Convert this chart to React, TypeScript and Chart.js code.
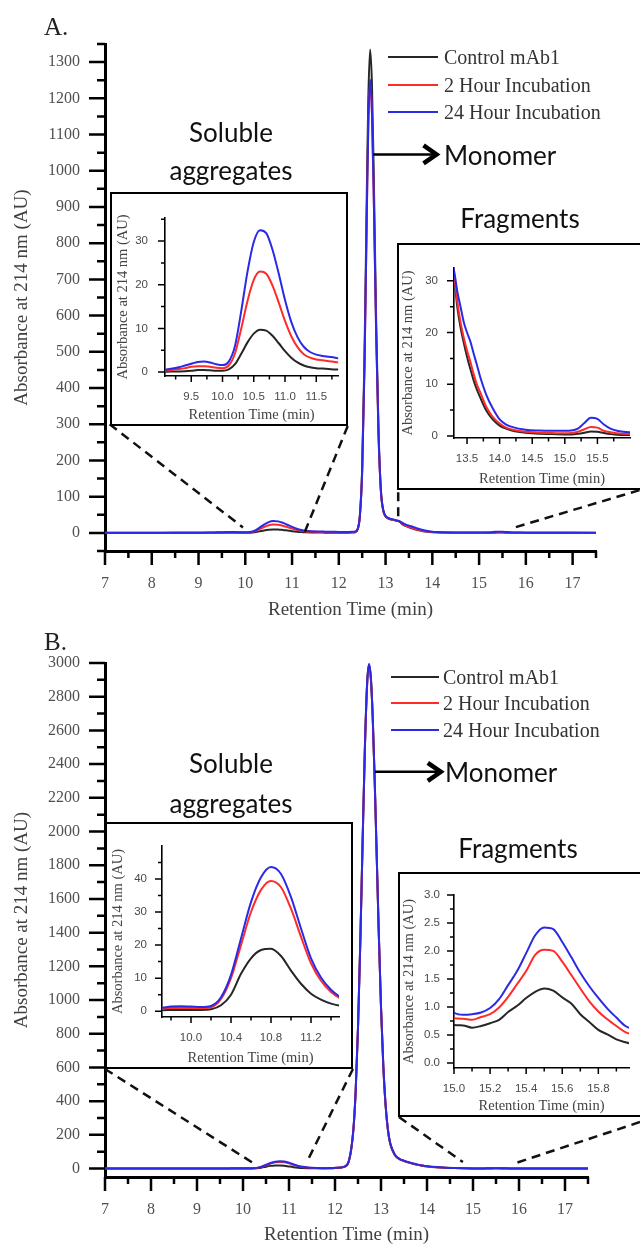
import React, { useEffect, useRef } from "react";
import { Chart, registerables } from "chart.js";

Chart.register(...registerables);

// ---------- series ----------
const SERIES_NAMES = ["Control mAb1", "2 Hour Incubation", "24 Hour Incubation"];
const SERIES_COLORS = ["#262626", "#ff2b2b", "#2a2ae6"];

// ---------- Panel A data ----------
const xA = [
  7.0, 8.0, 8.5, 9.0,
  9.1, 9.2, 9.3, 9.4, 9.5, 9.6, 9.7, 9.8, 9.9,
  10.0, 10.1, 10.2, 10.3, 10.4, 10.5, 10.6, 10.7, 10.8, 10.9,
  11.0, 11.1, 11.2, 11.3, 11.4, 11.5, 11.6, 11.7, 11.8, 11.9,
  12.0, 12.1, 12.2, 12.3,
  12.35, 12.4, 12.45, 12.5, 12.55, 12.6,
  12.63, 12.67, 12.71, 12.75,
  12.8, 12.85, 12.9, 12.95,
  13.0, 13.05, 13.1, 13.15, 13.2, 13.25,
  13.3, 13.35, 13.4, 13.45, 13.5, 13.55, 13.6, 13.65, 13.7,
  13.8, 13.9, 14.0, 14.1, 14.2,
  14.4, 14.6, 14.8,
  15.0, 15.1, 15.2, 15.3, 15.4, 15.5, 15.6, 15.7, 15.8, 15.9,
  16.0, 16.5, 17.0, 17.5,
];
const blackA = [
  0, 0, 0.05, 0.1,
  0.1, 0.12, 0.15, 0.2, 0.3, 0.45, 0.5, 0.4, 0.3,
  0.3, 0.6, 1.8, 4.2, 6.8, 8.8, 9.7, 9.5, 8.3, 6.6,
  4.8, 3.3, 2.2, 1.5, 1.1, 0.9, 0.8, 0.7, 0.6, 0.6,
  0.6, 0.6, 0.7, 0.9,
  1.8, 9, 47, 181, 493, 951,
  1195, 1335, 1232, 969,
  575, 280, 118, 62,
  45, 40, 37.5, 36, 34.5, 33,
  31, 25, 21, 18, 15.3, 13, 10.8, 9, 7.5,
  4.8, 3.1, 2.0, 1.4, 1.0,
  0.6, 0.4, 0.35,
  0.3, 0.3, 0.4, 0.6, 0.85, 0.8, 0.55, 0.35, 0.25, 0.2,
  0.2, 0.1, 0.05, 0,
];
const redA = [
  0.1, 0.1, 0.15, 0.3,
  0.35, 0.5, 0.7, 0.9, 1.2, 1.35, 1.35, 1.2, 1.0,
  0.9, 1.5, 4.3, 10.0, 16.3, 21.1, 23.0, 22.5, 19.8, 15.9,
  11.7, 8.2, 5.7, 4.1, 3.3, 2.9, 2.7, 2.5, 2.3, 2.1,
  2.0, 1.9, 2.0, 2.3,
  3, 9, 45, 170, 462, 890,
  1118, 1247, 1152, 906,
  540, 265, 113, 61,
  45.5, 40.5, 38, 36.5, 35, 33.5,
  31.5, 26, 22, 19, 16.5, 14.4, 12, 10, 8.5,
  5.5, 3.6, 2.4, 1.6, 1.2,
  0.8, 0.6, 0.55,
  0.5, 0.55, 0.8, 1.3, 1.75, 1.6, 1.0, 0.7, 0.5, 0.4,
  0.35, 0.2, 0.1, 0.1,
];
const blueA = [
  0.2, 0.2, 0.3, 0.5,
  0.6, 0.8, 1.1, 1.5, 1.9, 2.3, 2.4, 2.2, 1.8,
  1.6, 2.4, 6.0, 14.0, 23.0, 29.8, 32.5, 31.8, 28.0, 22.5,
  16.5, 11.5, 8.0, 5.8, 4.6, 4.0, 3.7, 3.5, 3.3, 3.0,
  2.7, 2.5, 2.6, 3.0,
  3.8, 10, 46, 172, 465, 895,
  1122, 1252, 1158, 912,
  545, 270, 117, 64,
  47, 42, 39, 37.5, 36, 34,
  32, 28, 25, 22, 20, 18.3, 16, 13.8, 11.5,
  7.8, 5.2, 3.2, 2.2, 1.7,
  1.2, 1.05, 1.0,
  1.0, 1.05, 1.4, 2.5, 3.5, 3.3, 2.2, 1.4, 1.0, 0.8,
  0.7, 0.4, 0.2, 0.1,
];

// ---------- Panel B data ----------
const xB = [
  7.0, 8.0, 9.0, 9.5,
  9.7, 9.8, 9.9,
  10.0, 10.1, 10.2, 10.3, 10.4, 10.5, 10.6, 10.7, 10.8, 10.9,
  11.0, 11.1, 11.2, 11.3, 11.4, 11.5, 11.6, 11.7, 11.8, 11.9,
  12.0, 12.1, 12.2, 12.3, 12.4,
  12.45, 12.5, 12.55, 12.6, 12.65, 12.7,
  12.74, 12.78, 12.82, 12.86, 12.9, 12.95,
  13.0, 13.05, 13.1, 13.15, 13.2,
  13.3, 13.4, 13.5, 13.6, 13.7, 13.8, 13.9,
  14.0, 14.2, 14.4, 14.6, 14.8,
  15.0, 15.05, 15.1, 15.15, 15.2, 15.25, 15.3, 15.35, 15.4, 15.45,
  15.5, 15.55, 15.6, 15.65, 15.7, 15.75, 15.8, 15.85, 15.9, 15.95, 16.0,
  16.5, 17.0, 17.5,
];
const blackB = [
  0.2, 0.2, 0.3, 0.3,
  0.3, 0.35, 0.4,
  0.4, 0.4, 0.6, 1.8, 5.0, 11.3, 16.0, 18.5, 18.9, 16.7,
  12.3, 8.3, 5.3, 3.5, 2.3, 1.6, 1.3, 1.2, 1.3, 1.6,
  3, 5, 10, 42, 230,
  462, 832, 1340, 1934, 2497, 2885,
  2990, 2908, 2677, 2331, 1925, 1410,
  957, 608, 373, 228, 147,
  80, 56, 45, 36, 28, 22, 17,
  13, 8, 5, 3, 1.5,
  0.68, 0.67, 0.63, 0.66, 0.71, 0.77, 0.91, 1.02, 1.16, 1.27,
  1.33, 1.29, 1.17, 1.06, 0.87, 0.73, 0.59, 0.51, 0.42, 0.37, 0.33,
  0.2, 0.15, 0.1,
];
const redB = [
  0.5, 0.5, 0.6, 0.7,
  0.8, 1.0, 1.0,
  0.95, 0.9, 1.2, 3.7, 10.0, 20.0, 30.0, 36.7, 39.4, 37.5,
  31.0, 22.5, 14.5, 9.2, 5.8, 3.8, 2.8, 2.3, 2.2, 2.5,
  4, 6, 11, 43, 232,
  464, 834, 1342, 1936, 2495, 2880,
  2985, 2904, 2675, 2330, 1926, 1412,
  960, 611, 376, 231, 150,
  82, 57, 46, 37, 29, 23, 18,
  14, 8.5, 5.2, 3.1, 1.6,
  0.80, 0.79, 0.77, 0.82, 0.87, 0.99, 1.18, 1.41, 1.64, 1.93,
  2.02, 2.00, 1.81, 1.57, 1.33, 1.10, 0.92, 0.78, 0.66, 0.55, 0.50,
  0.3, 0.2, 0.15,
];
const blueB = [
  0.6, 0.6, 0.7, 0.8,
  1.0, 1.4, 1.5,
  1.4, 1.3, 1.6, 4.2, 11.0, 22.0, 33.0, 40.5, 43.6, 41.5,
  34.5, 25.0, 16.0, 10.2, 6.5, 4.2, 3.1, 2.6, 2.5, 2.8,
  4.5, 6.5, 12, 45, 235,
  467, 838, 1346, 1940, 2500, 2888,
  2995, 2912, 2680, 2335, 1930, 1416,
  963, 614, 379, 233, 152,
  84, 58, 47, 38, 30, 23.5, 18.5,
  14.5, 9, 5.5, 3.3, 1.8,
  0.90, 0.86, 0.87, 0.90, 0.98, 1.14, 1.39, 1.64, 1.96, 2.28,
  2.42, 2.39, 2.16, 1.89, 1.61, 1.37, 1.16, 0.97, 0.81, 0.66, 0.60,
  0.4, 0.3, 0.2,
];

// ---------- tick values ----------
const X_MAIN_MAJOR = [7, 8, 9, 10, 11, 12, 13, 14, 15, 16, 17];
const X_MAIN_MINOR = [7.5, 8.5, 9.5, 10.5, 11.5, 12.5, 13.5, 14.5, 15.5, 16.5, 17.5];
const Y_A_MAJOR = [0, 100, 200, 300, 400, 500, 600, 700, 800, 900, 1000, 1100, 1200, 1300];
const Y_A_MINOR = [-50, 50, 150, 250, 350, 450, 550, 650, 750, 850, 950, 1050, 1150, 1250, 1350];
const Y_B_MAJOR = [0, 200, 400, 600, 800, 1000, 1200, 1400, 1600, 1800, 2000, 2200, 2400, 2600, 2800, 3000];
const Y_B_MINOR = [100, 300, 500, 700, 900, 1100, 1300, 1500, 1700, 1900, 2100, 2300, 2500, 2700, 2900];

const XA_AGG_MAJOR = [9.5, 10.0, 10.5, 11.0, 11.5];
const XA_AGG_MINOR = [9.25, 9.75, 10.25, 10.75, 11.25, 11.75];
const YA_AGG_MAJOR = [0, 10, 20, 30];
const YA_AGG_MINOR = [5, 15, 25, 35];
const XA_FRAG_MAJOR = [13.5, 14.0, 14.5, 15.0, 15.5];
const XA_FRAG_MINOR = [13.75, 14.25, 14.75, 15.25, 15.75];
const YA_FRAG_MAJOR = [0, 10, 20, 30];
const YA_FRAG_MINOR = [5, 15, 25];
const XB_AGG_MAJOR = [10.0, 10.4, 10.8, 11.2];
const XB_AGG_MINOR = [9.8, 10.2, 10.6, 11.0, 11.4];
const YB_AGG_MAJOR = [0, 10, 20, 30, 40];
const YB_AGG_MINOR = [5, 15, 25, 35, 45];
const XB_FRAG_MAJOR = [15.0, 15.2, 15.4, 15.6, 15.8];
const XB_FRAG_MINOR = [15.1, 15.3, 15.5, 15.7, 15.9];
const YB_FRAG_MAJOR = [0.0, 0.5, 1.0, 1.5, 2.0, 2.5, 3.0];
const YB_FRAG_MINOR = [0.25, 0.75, 1.25, 1.75, 2.25, 2.75];

// ---------- zoom connector lines (data units of the main plot: x0, y0, x1, y1) ----------
const DASH_A = [
  [7.1, 300, 9.95, 15],
  [12.19, 295, 11.27, 2],
  [13.27, 112, 13.27, 30],
  [18.43, 118, 15.76, 15],
];
const DASH_B = [
  [7.0, 591, 10.22, 33],
  [12.39, 591, 11.41, 51],
  [13.39, 306, 14.78, 39],
  [18.63, 276, 15.93, 33],
];
// monomer arrow: x start, x end, y level (data units)
const ARROW_A = [12.74, 14.09, 1045];
const ARROW_B = [12.87, 14.3, 2354];

const AXIS_TITLE_X = "Retention Time (min)";
const AXIS_TITLE_Y = "Absorbance at 214 nm (AU)";

const SERIF = "'Liberation Serif', 'Times New Roman', serif";
const SANS = "'Liberation Sans', Arial, sans-serif";
const NOTE = "Lato, 'Open Sans', sans-serif";

// ---------- plugins ----------
const tickMarks = {
  id: "tickMarks",
  afterDraw(chart: any, _a: any, opts: any) {
    if (!opts || !opts.enabled) return;
    const ctx = chart.ctx;
    const xs = chart.scales.x;
    const ys = chart.scales.y;
    ctx.save();
    ctx.strokeStyle = "#000";
    ctx.lineWidth = opts.width;
    ctx.lineCap = "butt";
    ctx.beginPath();
    xs.ticks.forEach((t: any) => {
      const p = xs.getPixelForValue(t.value);
      const len = t.label !== "" ? opts.xMajor : opts.xMinor;
      ctx.moveTo(p, xs.top);
      ctx.lineTo(p, xs.top + len);
    });
    ys.ticks.forEach((t: any) => {
      const p = ys.getPixelForValue(t.value);
      const len = t.label !== "" ? opts.yMajor : opts.yMinor;
      ctx.moveTo(ys.right, p);
      ctx.lineTo(ys.right - len, p);
    });
    ctx.stroke();
    ctx.restore();
  },
};

const arrowNote = {
  id: "arrowNote",
  afterDraw(chart: any, _a: any, opts: any) {
    if (!opts || !opts.points) return;
    const [x0, x1, y] = opts.points;
    const ctx = chart.ctx;
    const px0 = chart.scales.x.getPixelForValue(x0);
    const px1 = chart.scales.x.getPixelForValue(x1);
    const py = chart.scales.y.getPixelForValue(y);
    ctx.save();
    ctx.strokeStyle = "#000";
    ctx.lineWidth = 2.5;
    ctx.beginPath();
    ctx.moveTo(px0, py);
    ctx.lineTo(px1 - 2, py);
    ctx.stroke();
    ctx.lineWidth = 4.5;
    ctx.lineJoin = "miter";
    ctx.beginPath();
    ctx.moveTo(px1 - 13, py - 9);
    ctx.lineTo(px1, py);
    ctx.lineTo(px1 - 13, py + 9);
    ctx.stroke();
    ctx.restore();
  },
};

// ---------- config builder ----------
const near = (list: number[], v: number) => list.some((m) => Math.abs(m - v) < 1e-6);

function seriesDatasets(xs: number[], ys: number[][], width: number) {
  return ys.map((arr, i) => ({
    label: SERIES_NAMES[i],
    data: xs.map((x, j) => ({ x, y: arr[j] })),
    borderColor: SERIES_COLORS[i],
    backgroundColor: SERIES_COLORS[i],
    borderWidth: width,
    pointRadius: 0,
    cubicInterpolationMode: "monotone",
    fill: false,
    order: 3 - i,
  }));
}

function dashedDatasets(segs: number[][]) {
  return segs.map(([x0, y0, x1, y1]) => ({
    label: "zoom",
    data: [
      { x: x0, y: y0 },
      { x: x1, y: y1 },
    ],
    borderColor: "#111",
    borderWidth: 2.5,
    borderDash: [9, 6],
    pointRadius: 0,
    tension: 0,
    clip: false,
    order: 0,
  }));
}

function makeConfig(o: any) {
  const [l, r, t, b] = o.area;
  const axis = (min: number, max: number, major: number[], minor: number[], digits: number, isX: boolean) => ({
    type: "linear",
    position: isX ? "bottom" : "left",
    min,
    max,
    afterBuildTicks: (s: any) => {
      s.ticks = [...major, ...minor].sort((a, c) => a - c).map((v) => ({ value: v }));
    },
    afterFit: (s: any) => {
      if (isX) s.height = o.height - b;
      else s.width = l;
    },
    ticks: {
      autoSkip: false,
      maxRotation: 0,
      minRotation: 0,
      padding: isX ? o.xTickPad : o.yTickPad,
      font: { family: o.tickFamily, size: o.tickSize },
      color: o.tickColor,
      callback: (v: number) => (near(major, v) ? v.toFixed(digits) : ""),
    },
    grid: { display: false, drawTicks: false },
    border: { display: true, color: "#000", width: o.axisWidth },
    title: {
      display: true,
      text: isX ? AXIS_TITLE_X : AXIS_TITLE_Y,
      font: { family: SERIF, size: o.titleSize },
      color: o.titleColor,
      padding: isX ? { top: 0, bottom: o.xTitlePad } : { top: o.yTitlePad, bottom: 0 },
    },
  });
  return {
    type: "line",
    data: {
      datasets: [...seriesDatasets(o.xs, o.ys, o.lineWidth), ...(o.dashes ? dashedDatasets(o.dashes) : [])],
    },
    options: {
      responsive: false,
      animation: false,
      devicePixelRatio: 1,
      layout: { padding: { left: 0, top: t, right: o.width - r, bottom: 0 } },
      plugins: {
        legend: { display: false },
        tooltip: { enabled: false },
        tickMarks: {
          enabled: true,
          width: o.tickWidth,
          xMajor: o.lens[0],
          xMinor: o.lens[1],
          yMajor: o.lens[2],
          yMinor: o.lens[3],
        },
        arrowNote: { points: o.arrow || null },
      },
      scales: {
        x: axis(o.xMin, o.xMax, o.xMajor, o.xMinor, o.xDigits, true),
        y: axis(o.yMin, o.yMax, o.yMajor, o.yMinor, o.yDigits, false),
      },
    },
    plugins: [tickMarks, arrowNote],
  };
}

const MAIN_STYLE = {
  tickFamily: SERIF,
  tickSize: 16,
  tickColor: "#505050",
  titleSize: 19,
  titleColor: "#404040",
  lens: [14, 7, 16, 8],
  tickWidth: 2.5,
  axisWidth: 3,
  lineWidth: 2,
  xTickPad: 23,
  yTickPad: 25,
};
const INSET_STYLE = {
  tickFamily: SANS,
  tickSize: 11.5,
  tickColor: "#4a4a4a",
  titleSize: 14.5,
  titleColor: "#444",
  lens: [6, 3.5, 7, 4],
  tickWidth: 1.5,
  axisWidth: 1.6,
  lineWidth: 2,
  xTickPad: 14,
  yTickPad: 15,
  xTitlePad: 0,
};

// ---------- components ----------
function ChartCanvas({ left, top, width, height, build }: any) {
  const ref = useRef<HTMLCanvasElement>(null);
  useEffect(() => {
    const chart = new Chart(ref.current as HTMLCanvasElement, build() as any);
    return () => chart.destroy();
  }, []);
  return (
    <canvas
      ref={ref}
      width={width}
      height={height}
      style={{ position: "absolute", left, top, width, height }}
    />
  );
}

function InsetBox({ left, top, width, height }: any) {
  return (
    <div
      style={{
        position: "absolute",
        left,
        top,
        width,
        height,
        boxSizing: "border-box",
        border: "2px solid #000",
        background: "#fff",
      }}
    />
  );
}

function Legend({ left, centers, lineW, gap }: any) {
  return (
    <>
      {SERIES_NAMES.map((name, i) => (
        <div
          key={name}
          style={{
            position: "absolute",
            left,
            top: centers[i] - 13,
            height: 26,
            display: "flex",
            alignItems: "center",
            whiteSpace: "nowrap",
          }}
        >
          <span style={{ display: "inline-block", width: lineW, height: 2.5, background: SERIES_COLORS[i] }} />
          <span style={{ marginLeft: gap, fontFamily: SERIF, fontSize: 20, color: "#333", lineHeight: "26px" }}>
            {name}
          </span>
        </div>
      ))}
    </>
  );
}

function Note({ cx, top, children, lh, align }: any) {
  const style: any = {
    position: "absolute",
    top,
    fontFamily: NOTE,
    fontSize: 26,
    lineHeight: lh + "px",
    color: "#111",
    whiteSpace: "nowrap",
  };
  if (align === "left") {
    style.left = cx;
  } else {
    style.left = cx - 150;
    style.width = 300;
    style.textAlign = "center";
  }
  return <div style={style}>{children}</div>;
}

export default function App() {
  return (
    <div
      style={{
        position: "absolute",
        left: 0,
        top: 0,
        width: 640,
        height: 1246,
        overflow: "hidden",
        background: "#fff",
      }}
    >
      {/* ---------------- Panel A ---------------- */}
      <ChartCanvas
        left={0}
        top={0}
        width={640}
        height={625}
        build={() =>
          makeConfig({
            ...MAIN_STYLE,
            xs: xA,
            ys: [blackA, redA, blueA],
            width: 640,
            height: 625,
            area: [105, 596, 44, 551],
            xMin: 7,
            xMax: 17.5,
            xMajor: X_MAIN_MAJOR,
            xMinor: X_MAIN_MINOR,
            xDigits: 0,
            yMin: -50,
            yMax: 1350,
            yMajor: Y_A_MAJOR,
            yMinor: Y_A_MINOR,
            yDigits: 0,
            xTitlePad: 3.6,
            yTitlePad: 10.6,
            dashes: DASH_A,
            arrow: ARROW_A,
          })
        }
      />
      <div style={{ position: "absolute", left: 44, top: 14, fontFamily: SERIF, fontSize: 25, lineHeight: "26px", color: "#222" }}>
        A.
      </div>
      <Legend left={388} centers={[57, 85, 112]} lineW={50} gap={6} />
      <Note cx={444} top={155 - 17} lh={34} align="left">Monomer</Note>
      <Note cx={231} top={113} lh={38}>
        Soluble
        <br />
        aggregates
      </Note>
      <Note cx={520} top={218 - 17} lh={34}>Fragments</Note>

      <InsetBox left={110} top={192} width={238} height={234} />
      <ChartCanvas
        left={112}
        top={194}
        width={234}
        height={230}
        build={() =>
          makeConfig({
            ...INSET_STYLE,
            xs: xA,
            ys: [blackA, redA, blueA],
            width: 234,
            height: 230,
            area: [53, 231, 6, 182],
            xMin: 9.08,
            xMax: 11.85,
            xMajor: XA_AGG_MAJOR,
            xMinor: XA_AGG_MINOR,
            xDigits: 1,
            yMin: -0.9,
            yMax: 35.3,
            yMajor: YA_AGG_MAJOR,
            yMinor: YA_AGG_MINOR,
            yDigits: 0,
            yTickPad: 17,
            yTitlePad: 2.3,
          })
        }
      />

      <InsetBox left={397} top={243} width={250} height={247} />
      <ChartCanvas
        left={399}
        top={245}
        width={241}
        height={243}
        build={() =>
          makeConfig({
            ...INSET_STYLE,
            xs: xA,
            ys: [blackA, redA, blueA],
            width: 241,
            height: 243,
            area: [55, 231, 14.5, 193],
            xMin: 13.3,
            xMax: 16.0,
            xMajor: XA_FRAG_MAJOR,
            xMinor: XA_FRAG_MINOR,
            xDigits: 1,
            yMin: -0.4,
            yMax: 32.5,
            yMajor: YA_FRAG_MAJOR,
            yMinor: YA_FRAG_MINOR,
            yDigits: 0,
            yTickPad: 16,
            yTitlePad: 0.3,
          })
        }
      />

      {/* ---------------- Panel B ---------------- */}
      <ChartCanvas
        left={0}
        top={620}
        width={640}
        height={626}
        build={() =>
          makeConfig({
            ...MAIN_STYLE,
            xs: xB,
            ys: [blackB, redB, blueB],
            width: 640,
            height: 626,
            area: [105, 588, 43, 557],
            xMin: 7,
            xMax: 17.5,
            xMajor: X_MAIN_MAJOR,
            xMinor: X_MAIN_MINOR,
            xDigits: 0,
            yMin: -50,
            yMax: 3000,
            yMajor: Y_B_MAJOR,
            yMinor: Y_B_MINOR,
            yDigits: 0,
            xTitlePad: 0,
            yTitlePad: 10.3,
            dashes: DASH_B,
            arrow: ARROW_B,
          })
        }
      />
      <div style={{ position: "absolute", left: 44, top: 629, fontFamily: SERIF, fontSize: 25, lineHeight: "26px", color: "#222" }}>
        B.
      </div>
      <Legend left={391} centers={[677, 703, 730]} lineW={48} gap={4} />
      <Note cx={445} top={772 - 17} lh={34} align="left">Monomer</Note>
      <Note cx={231} top={743} lh={40}>
        Soluble
        <br />
        aggregates
      </Note>
      <Note cx={518} top={848 - 17} lh={34}>Fragments</Note>

      <InsetBox left={105} top={822} width={248} height={247} />
      <ChartCanvas
        left={107}
        top={824}
        width={244}
        height={243}
        build={() =>
          makeConfig({
            ...INSET_STYLE,
            xs: xB,
            ys: [blackB, redB, blueB],
            width: 244,
            height: 243,
            area: [55, 232, 16, 193],
            xMin: 9.71,
            xMax: 11.48,
            xMajor: XB_AGG_MAJOR,
            xMinor: XB_AGG_MINOR,
            xDigits: 1,
            yMin: -1.75,
            yMax: 50,
            yMajor: YB_AGG_MAJOR,
            yMinor: YB_AGG_MINOR,
            yDigits: 0,
            yTickPad: 15,
            yTitlePad: 2.3,
          })
        }
      />

      <InsetBox left={398} top={872} width={247} height={245} />
      <ChartCanvas
        left={400}
        top={874}
        width={240}
        height={241}
        build={() =>
          makeConfig({
            ...INSET_STYLE,
            xs: xB,
            ys: [blackB, redB, blueB],
            width: 240,
            height: 241,
            area: [54, 229, 19, 194],
            xMin: 15.0,
            xMax: 15.97,
            xMajor: XB_FRAG_MAJOR,
            xMinor: XB_FRAG_MINOR,
            xDigits: 1,
            yMin: -0.09,
            yMax: 3.0,
            yMajor: YB_FRAG_MAJOR,
            yMinor: YB_FRAG_MINOR,
            yDigits: 1,
            yTickPad: 14,
            yTitlePad: 0,
          })
        }
      />
    </div>
  );
}
